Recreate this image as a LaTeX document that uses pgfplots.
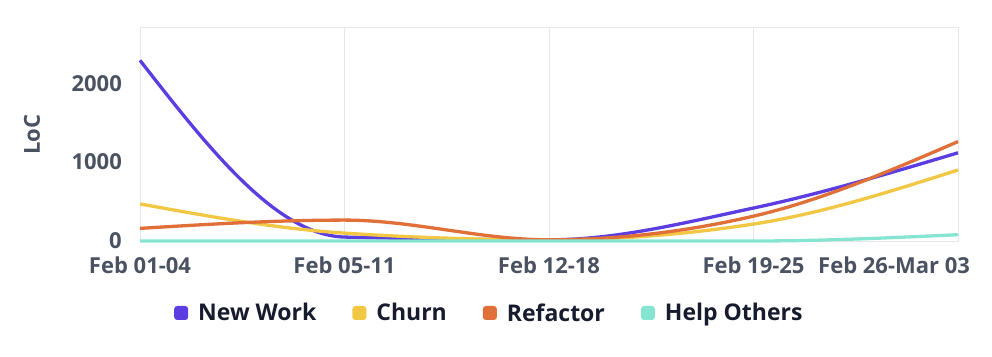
\documentclass[border=0pt]{standalone}
\usepackage{pgfplots}
\pgfplotsset{compat=1.18}
\usepackage{fontspec}
\setmainfont{Open Sans}
\definecolor{cNew}{HTML}{5B3DE1}
\definecolor{cChurn}{HTML}{F2C744}
\definecolor{cRef}{HTML}{E06F38}
\definecolor{cHelp}{HTML}{86E5D1}
\definecolor{tick}{HTML}{4A5262}
\definecolor{legtxt}{HTML}{161B2E}
\definecolor{gridc}{HTML}{E6E6EC}
% monotone cubic (d3 curveMonotoneX style) plot handler
\makeatletter
\ExplSyntaxOn
\int_new:N \g__mono_n_int
\cs_new:Npn \__mono_x:n #1 { \tl_use:c { g__mono_x_ \int_eval:n {#1} _tl } }
\cs_new:Npn \__mono_y:n #1 { \tl_use:c { g__mono_y_ \int_eval:n {#1} _tl } }
\cs_new:Npn \__mono_s:n #1 { \tl_use:c { g__mono_s_ \int_eval:n {#1} _tl } }
\cs_new:Npn \__mono_m:n #1 { \tl_use:c { g__mono_m_ \int_eval:n {#1} _tl } }
\cs_new:Npn \__mono_h:n #1 { ( ( \__mono_x:n {#1+1} ) - ( \__mono_x:n {#1} ) ) }
\cs_new_protected:Npn \mono_start: { \int_gzero:N \g__mono_n_int }
\cs_new_protected:Npn \mono_point:n #1
 {
   \pgf@process {#1}
   \int_gincr:N \g__mono_n_int
   \tl_gset:cx { g__mono_x_ \int_use:N \g__mono_n_int _tl } { \dim_to_decimal:n { \pgf@x } }
   \tl_gset:cx { g__mono_y_ \int_use:N \g__mono_n_int _tl } { \dim_to_decimal:n { \pgf@y } }
 }
\cs_new_protected:Npn \mono_end:
 {
   \int_compare:nNnT { \g__mono_n_int } > { 2 }
   {
   \int_step_inline:nn { \g__mono_n_int - 1 }
    {
      \tl_gset:cx { g__mono_s_ ##1 _tl }
        { \fp_eval:n { ( ( \__mono_y:n {##1+1} ) - ( \__mono_y:n {##1} ) ) / ( \__mono_h:n {##1} ) } }
    }
   \int_step_inline:nnn { 2 } { \g__mono_n_int - 1 }
    {
      \tl_gset:cx { g__mono_m_ ##1 _tl }
       { \fp_eval:n {
          ( ( ( \__mono_s:n {##1-1} ) < 0 ) ? -1 : 1 ) * 1
          + 0 } }
      \tl_gset:cx { g__mono_m_ ##1 _tl }
       { \fp_eval:n {
          ( \__mono_m:n {##1} + ( ( ( \__mono_s:n {##1} ) < 0 ) ? -1 : 1 ) )
          * min( abs( \__mono_s:n {##1-1} ) , abs( \__mono_s:n {##1} ) ,
                 0.5 * abs( ( ( \__mono_s:n {##1-1} ) * \__mono_h:n {##1} + ( \__mono_s:n {##1} ) * \__mono_h:n {##1-1} ) / ( \__mono_h:n {##1-1} + \__mono_h:n {##1} ) ) )
       } }
    }
   \tl_gset:cx { g__mono_m_1_tl }
     { \fp_eval:n { ( 3 * ( \__mono_s:n {1} ) - ( \__mono_m:n {2} ) ) / 2 } }
   \tl_gset:cx { g__mono_m_ \int_use:N \g__mono_n_int _tl }
     { \fp_eval:n { ( 3 * ( \__mono_s:n { \g__mono_n_int - 1 } ) - ( \__mono_m:n { \g__mono_n_int - 1 } ) ) / 2 } }
   \pgf@plot@first@action { \pgfqpoint { \__mono_x:n {1} pt } { \__mono_y:n {1} pt } }
   \int_step_inline:nn { \g__mono_n_int - 1 }
    {
      \pgfpathcurveto
       { \pgfqpoint { \fp_eval:n { ( \__mono_x:n {##1} ) + \__mono_h:n {##1} / 3 } pt }
                    { \fp_eval:n { ( \__mono_y:n {##1} ) + ( \__mono_m:n {##1} ) * \__mono_h:n {##1} / 3 } pt } }
       { \pgfqpoint { \fp_eval:n { ( \__mono_x:n {##1+1} ) - \__mono_h:n {##1} / 3 } pt }
                    { \fp_eval:n { ( \__mono_y:n {##1+1} ) - ( \__mono_m:n {##1+1} ) * \__mono_h:n {##1} / 3 } pt } }
       { \pgfqpoint { \__mono_x:n {##1+1} pt } { \__mono_y:n {##1+1} pt } }
    }
   }
 }
\cs_new_protected:Npn \pgfplothandlermonotone
 {
   \cs_set:Npn \pgf@plotstreamstart
    {
      \mono_start:
      \cs_gset_eq:NN \pgf@plotstreampoint \mono_point:n
      \cs_gset_eq:NN \pgf@plotstreamspecial \use_none:n
      \cs_gset_eq:NN \pgf@plotstreamend \mono_end:
    }
 }
\ExplSyntaxOff
\tikzset{monotone/.code={\let\tikz@plot@handler=\pgfplothandlermonotone}}
\makeatother
\begin{document}
\begin{tikzpicture}
\useasboundingbox (0,0) rectangle (992pt,356pt);
\begin{axis}[
  at={(140pt,115pt)}, anchor=south west,
  scale only axis, width=818pt, height=213pt,
  xmin=0, xmax=4, ymin=0, ymax=2700,
  xtick={0,1,2,3},
  xticklabels={Feb 01-04,Feb 05-11,Feb 12-18,Feb 19-25},
  extra x ticks={4},
  extra x tick labels={Feb 26-Mar 03},
  extra x tick style={xticklabel style={anchor=north west, xshift=-140pt}},
  ytick={0,1000,2000},
  major tick length=0pt,
  xmajorgrids, grid style={gridc, line width=1pt},
  axis line style={gridc, line width=1pt},
  tick label style={font=\fontsize{22}{24}\selectfont\bfseries, text=tick},
  yticklabel style={inner sep=0pt, xshift=-18pt},
  xticklabel style={inner sep=0pt, yshift=-16pt},
  /pgf/number format/assume math mode=true,
  /pgf/number format/set thousands separator={},
  scaled y ticks=false,
  ylabel={LoC},
  ylabel style={at={(axis description cs:-0.132,0.5)}, anchor=center, font=\fontsize{22}{26}\selectfont\bfseries, text=tick},
  legend style={draw=none, fill=none, at={(axis description cs:0.432,-0.338)}, anchor=center,
    font=\fontsize{23}{26}\selectfont\bfseries, text=legtxt,
    /tikz/every even column/.append style={column sep=26pt},
    nodes={inner xsep=10pt, inner ysep=0pt}},
  legend columns=4,
  legend image code/.code={\fill[#1, draw=none, rounded corners=3pt] (0pt,-7pt) rectangle (14pt,7pt);},
  clip=false,
]
\addplot[cNew, line width=3.3pt, monotone] coordinates {(0,2290) (1,50) (2,15) (3,418) (4,1118)};
\addplot[cChurn, line width=3.3pt, monotone] coordinates {(0,470) (1,100) (2,15) (3,215) (4,900)};
\addplot[cRef, line width=3.3pt, monotone] coordinates {(0,160) (1,265) (2,15) (3,315) (4,1260)};
\addplot[cHelp, line width=3.3pt, monotone] coordinates {(0,0) (1,0) (2,0) (3,0) (4,80)};
\legend{New Work, Churn, Refactor, Help Others}
\end{axis}
\end{tikzpicture}
\end{document}
